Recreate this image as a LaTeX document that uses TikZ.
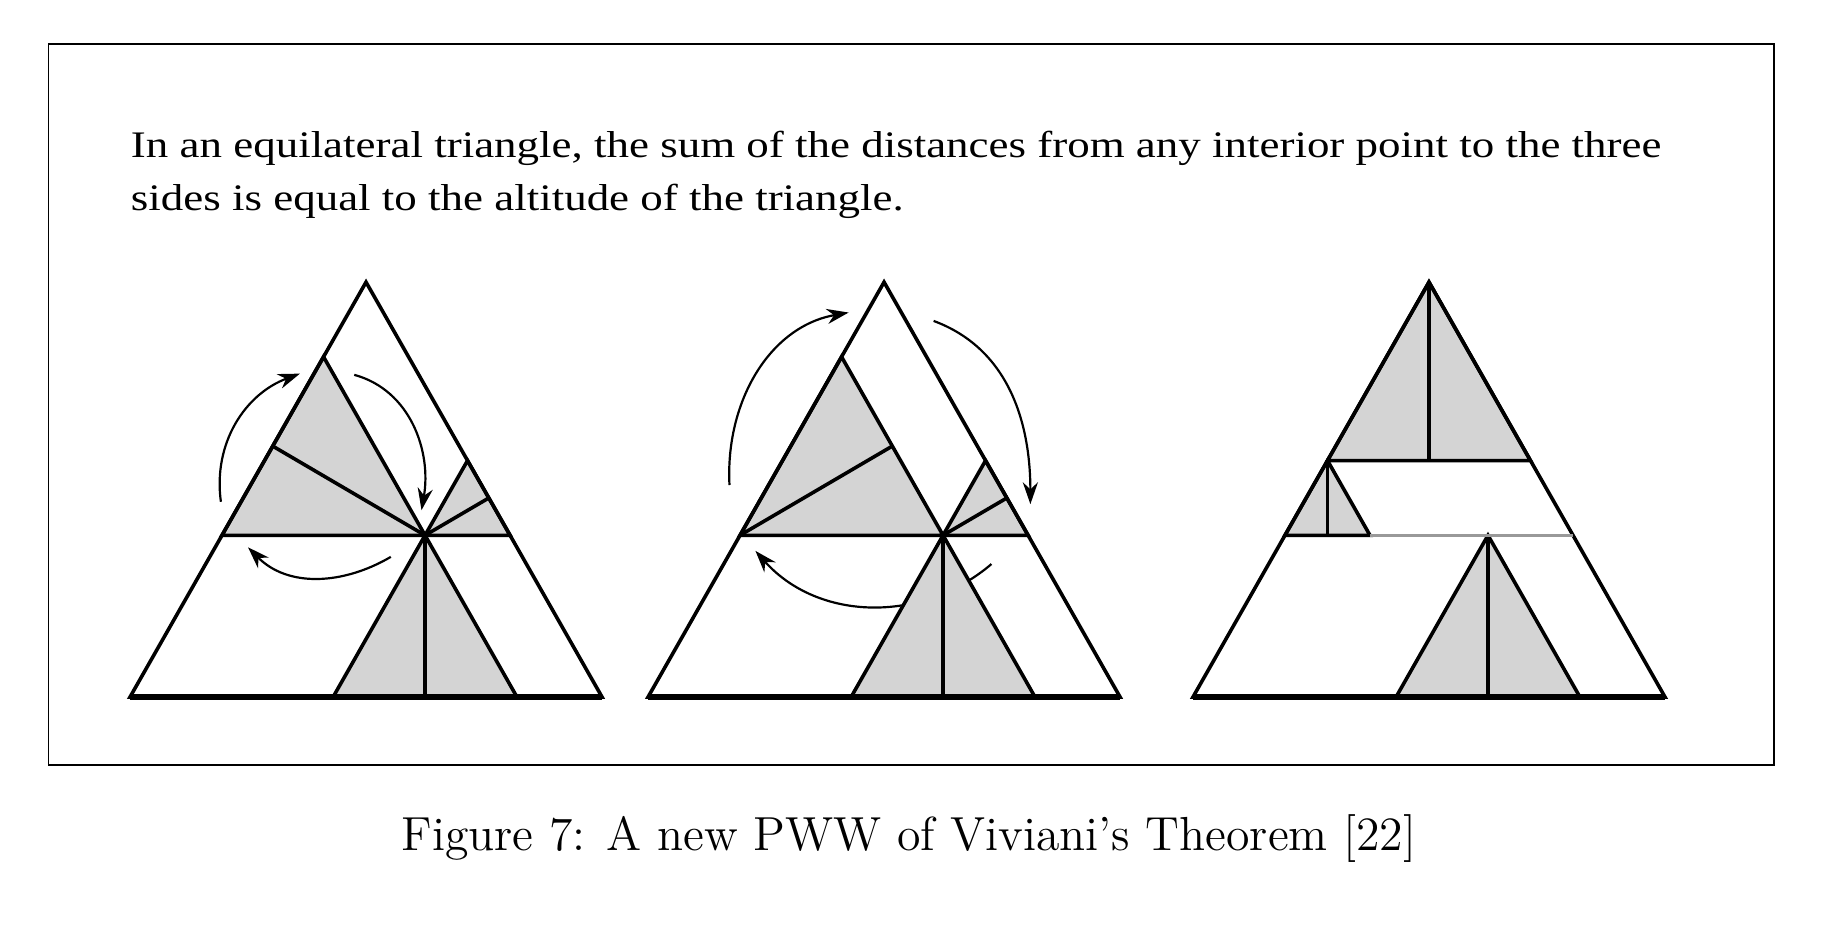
\documentclass[tikz,border=0pt]{standalone}
\usepackage{fontspec}
\newfontfamily\scanfont{Liberation Serif}
\usetikzlibrary{arrows.meta}
\tikzset{
  trline/.style={line width=0.9pt},
  grayfill/.style={trline, fill=black!17},
  swing/.style={line width=0.55pt, -{Stealth[length=5.5pt,width=3.8pt]}},
}

\begin{document}
\begin{tikzpicture}[x=1.0407cm, y=1.0407cm]
\useasboundingbox (-1.102,-1.924) rectangle (14.559,5.907);
\draw[line width=0.4pt] (-0.691,-0.576) rectangle (13.932,5.534);

\node[font=\scanfont\fontsize{9.4}{11}\selectfont, xscale=1.2, transform shape, anchor=base west, inner sep=0pt] (claim1) at (0,4.572) {In an equilateral triangle, the sum of the distances from any interior point to the three};
\node[font=\scanfont\fontsize{9.4}{11}\selectfont, xscale=1.2, transform shape, anchor=base west, inner sep=0pt] (claim2) at (0,4.127) {sides is equal to the altitude of the triangle.};

% first triangle
\begin{scope}[yscale=1.015]
	\draw[grayfill] (0.779,1.35) -- (2.5,1.35) -- (1.640,2.840) -- cycle;
	\draw[grayfill] (2.5,1.35) -- (3.221,1.35) -- (2.860,1.974) -- cycle;
	\draw[grayfill] (2.5,1.35) -- (1.721,0) -- (3.279,0) -- cycle;
\draw[trline] (0,0) -- (4,0) -- (2,3.464) -- cycle;
\draw[line width=1.3pt] (0,0) -- (4,0);
\draw[trline] (0.779,1.35) -- (3.221,1.35);
\draw[trline] (2.5,1.35) -- (1.209,2.095);
\draw[trline] (2.5,1.35) -- (3.041,1.662);
\draw[trline] (2.5,1.35) -- (2.5,0);
\draw[swing] (0.77,1.63) to[out=98,in=200] (1.44,2.70);
\draw[swing] (1.90,2.69) to[out=-15,in=80] (2.47,1.56);
\draw[swing] (2.21,1.17) to[out=210,in=-45] (1.00,1.25);
\end{scope}

% second triangle
\begin{scope}[shift={(4.39,0)}, yscale=1.015]
\draw[swing] (2.91,1.11) to[out=220,in=-48] (0.91,1.22);
	\draw[grayfill] (0.779,1.35) -- (2.5,1.35) -- (1.640,2.840) -- cycle;
	\draw[grayfill] (2.5,1.35) -- (3.221,1.35) -- (2.860,1.974) -- cycle;
	\draw[grayfill] (2.5,1.35) -- (1.721,0) -- (3.279,0) -- cycle;
\draw[trline] (0,0) -- (4,0) -- (2,3.464) -- cycle;
\draw[line width=1.3pt] (0,0) -- (4,0);
\draw[trline] (0.779,1.35) -- (3.221,1.35);
\draw[trline] (0.779,1.35) -- (2.070,2.095);
\draw[trline] (2.5,1.35) -- (3.041,1.662);
\draw[trline] (2.5,1.35) -- (2.5,0);
\draw[swing] (0.69,1.77) to[out=93,in=190] (1.70,3.21);
\draw[swing] (2.42,3.14) to[out=-20,in=90] (3.24,1.61);
\end{scope}

% third triangle
\begin{scope}[shift={(9.008,0)}, yscale=1.015]
	\draw[grayfill] (2,3.464) -- (1.140,1.974) -- (2.860,1.974) -- cycle;
	\draw[grayfill] (1.140,1.974) -- (0.779,1.35) -- (1.500,1.35) -- cycle;
	\draw[grayfill] (2.5,1.35) -- (1.721,0) -- (3.279,0) -- cycle;
\draw[trline] (0,0) -- (4,0) -- (2,3.464) -- cycle;
\draw[line width=1.3pt] (0,0) -- (4,0);
\draw[trline] (2,3.464) -- (2,1.974);
\draw[trline] (1.140,1.974) -- (1.140,1.35);
\draw[trline] (2.5,1.35) -- (2.5,0);
\draw[line width=0.6pt, black!40] (1.500,1.35) -- (3.221,1.35);
\end{scope}

\node[font=\fontsize{12}{14}\selectfont, anchor=base, inner sep=0pt] (caption) at (6.602,-1.297) {Figure 7: A new PWW of Viviani's Theorem [22]};
\end{tikzpicture}
\end{document}
